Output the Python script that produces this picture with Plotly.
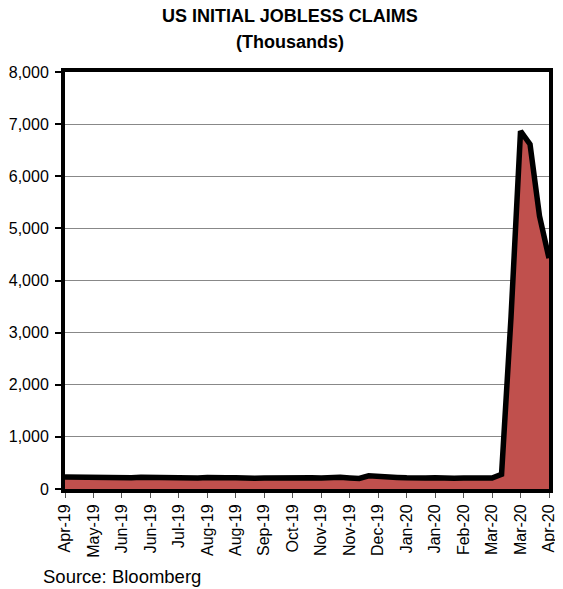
import plotly.graph_objects as go

week_index = list(range(52))
claims = [230, 228, 212, 211, 215, 218, 222, 216, 227, 221, 209, 216, 206, 215,
          209, 220, 209, 215, 217, 204, 208, 213, 219, 210, 214, 212, 218, 211,
          225, 227, 213, 203, 252, 234, 220, 222, 214, 204, 211, 216, 202, 205,
          210, 219, 216, 211, 282, 3307, 6867, 6615, 5237, 4427]
tick_positions = list(range(0, 52, 3))
tick_labels = ["Apr-19", "May-19", "Jun-19", "Jun-19", "Jul-19", "Aug-19", "Aug-19",
               "Sep-19", "Oct-19", "Nov-19", "Nov-19", "Dec-19", "Jan-20", "Jan-20",
               "Feb-20", "Mar-20", "Mar-20", "Apr-20"]
title_lines = ["US INITIAL JOBLESS CLAIMS", "(Thousands)"]

fig = go.Figure()
fig.add_trace(go.Scatter(
    x=week_index, y=claims, mode="lines", fill="tozeroy",
    fillcolor="#C0504D", line=dict(color="black", width=5.5),
    hoverinfo="x+y", showlegend=False,
))

font = "Liberation Sans, Arial, sans-serif"
fig.update_layout(
    width=563, height=589,
    margin=dict(l=57, r=22, t=64, b=108, autoexpand=False),
    paper_bgcolor="white", plot_bgcolor="white",
    font=dict(family=font, color="black", size=16),
    annotations=[
        dict(text="<b>" + title_lines[0] + "</b>",
             xref="paper", yref="paper", x=0.464, y=1.135,
             xanchor="center", yanchor="middle", showarrow=False,
             font=dict(size=18, family=font, color="black")),
        dict(text="<b>" + title_lines[1] + "</b>",
             xref="paper", yref="paper", x=0.464, y=1.072,
             xanchor="center", yanchor="middle", showarrow=False,
             font=dict(size=18, family=font, color="black")),
        dict(text="Source: Bloomberg", xref="paper", yref="paper",
             x=-0.05, y=-0.211, xanchor="left", yanchor="middle",
             showarrow=False, font=dict(size=18.5, family=font)),
    ],
)
fig.update_xaxes(
    range=[0, 51], tickmode="array", tickvals=tick_positions, ticktext=tick_labels,
    tickangle=-90, ticks="outside", ticklen=5, tickwidth=1, tickcolor="#555",
    showline=True, linecolor="black", linewidth=4, mirror=True,
    showgrid=False, zeroline=False, tickfont=dict(size=16), automargin=False,
    ticklabeloverflow="allow",
)
fig.update_yaxes(
    range=[0, 8000], dtick=1000, tickformat=",", ticks="outside", ticklen=6,
    tickwidth=2, tickcolor="black", ticklabelstandoff=3,
    showline=True, linecolor="black", linewidth=4, mirror=True,
    showgrid=True, gridcolor="#888", gridwidth=1, zeroline=False,
    tickfont=dict(size=16), automargin=False,
)

fig.write_html("out.html")
